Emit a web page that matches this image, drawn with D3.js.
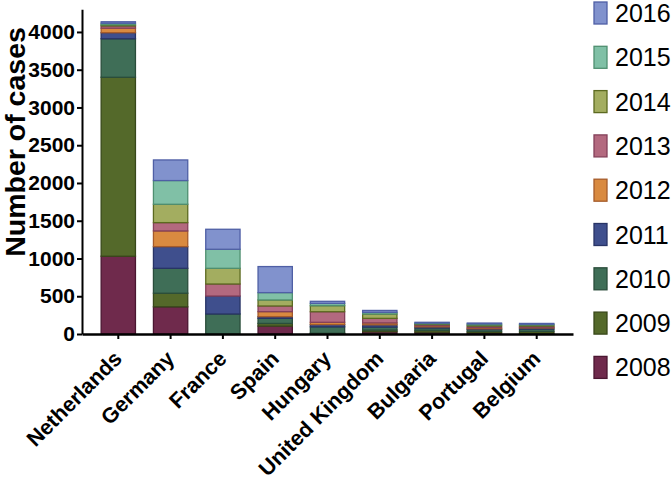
<!DOCTYPE html>
<html>
<head>
<meta charset="utf-8">
<script src="https://cdn.jsdelivr.net/npm/d3@7"></script>
<style>
  body { margin: 0; background: #fff; }
  svg { display: block; font-family: "Liberation Sans", Arial, sans-serif; }
</style>
</head>
<body>
<svg id="chart" width="672" height="481"></svg>
<script>
// data
const countries = ['Netherlands', 'Germany', 'France', 'Spain', 'Hungary',
    'United Kingdom', 'Bulgaria', 'Portugal', 'Belgium'];
const years = ['2008', '2009', '2010', '2011', '2012', '2013', '2014', '2015', '2016'];

// cases per year, one array per country (2008 .. 2016)
const netherlands = [1030, 2370, 510, 80, 60, 30, 15, 20, 20];
const germany     = [360, 180, 330, 287, 208, 110, 243, 314, 273];
const france      = [0, 0, 265, 238, 0, 159, 208, 252, 265];
const spain       = [105, 35, 68, 22, 66, 75, 80, 97, 345];
const hungary     = [5, 5, 85, 30, 30, 140, 80, 30, 28];
const uk          = [30, 22, 40, 30, 25, 60, 58, 22, 25];
const bulgaria    = [25, 25, 30, 15, 15, 15, 10, 10, 10];
const portugal    = [15, 20, 25, 10, 15, 20, 15, 15, 10];
const belgium     = [10, 25, 30, 15, 10, 15, 15, 10, 10];

const yTicks = [0, 500, 1000, 1500, 2000, 2500, 3000, 3500, 4000];

const fills   = ['#6f2a4c', '#54692a', '#3f6e57', '#3f4f8d', '#d98a40', '#b3697f', '#a3ad60', '#80c0a6', '#8192cd'];
const strokes = ['#4a1631', '#38481a', '#2a4d3b', '#283466', '#a55b2a', '#84405a', '#5c6a20', '#4f8f70', '#4f5fa5'];

const rows = [netherlands, germany, france, spain, hungary, uk, bulgaria, portugal, belgium];
const table = countries.map((c, i) => {
    const r = { country: c };
    years.forEach((y, j) => { r[y] = rows[i][j]; });
    return r;
});

const svg = d3.select('#chart');

const x = d3.scaleBand()
    .domain(countries)
    .range([82, 573])
    .paddingInner(0.344)
    .paddingOuter(0.366);

const y = d3.scaleLinear()
    .domain([0, 4300])
    .range([334, 9.3]);

const color = d3.scaleOrdinal().domain(years).range(fills);
const edge = d3.scaleOrdinal().domain(years).range(strokes);

const series = d3.stack().keys(years)(table);

// bars
svg.append('g')
    .selectAll('g')
    .data(series)
    .join('g')
    .attr('fill', d => color(d.key))
    .attr('stroke', d => edge(d.key))
    .attr('stroke-width', 1.3)
    .selectAll('rect')
    .data(d => d.filter(v => v[1] - v[0] > 0))
    .join('rect')
    .attr('x', d => x(d.data.country))
    .attr('width', x.bandwidth())
    .attr('y', d => y(d[1]))
    .attr('height', d => y(d[0]) - y(d[1]));

// y axis
const yAxis = svg.append('g')
    .attr('transform', 'translate(82,0)')
    .call(d3.axisLeft(y).tickValues(yTicks).tickFormat(d3.format('d'))
        .tickSize(5).tickSizeOuter(0).tickPadding(2));
yAxis.select('.domain').attr('stroke-width', 2);
yAxis.selectAll('.tick line').attr('stroke-width', 2);
yAxis.selectAll('.tick text')
    .attr('font-size', 21)
    .attr('font-weight', 'bold')
    .attr('fill', '#000');

// x axis
const xAxis = svg.append('g')
    .attr('transform', `translate(0,${y(0)})`)
    .call(d3.axisBottom(x).tickSize(5).tickSizeOuter(0).tickFormat(''));
xAxis.select('.domain').attr('stroke-width', 2.5);
xAxis.selectAll('.tick line').attr('stroke-width', 2);

svg.append('g')
    .selectAll('text')
    .data(countries)
    .join('text')
    .attr('transform', d => `translate(${x(d) + x.bandwidth() / 2 + 5},360) rotate(-45)`)
    .attr('text-anchor', 'end')
    .attr('font-size', 21.5)
    .attr('font-weight', 'bold')
    .text(d => d);

// y title
svg.append('text')
    .attr('transform', `translate(25,142) rotate(-90)`)
    .attr('text-anchor', 'middle')
    .attr('font-size', 28.5)
    .attr('font-weight', 'bold')
    .text('Number of cases');

// legend, newest year on top
const legend = svg.append('g')
    .selectAll('g')
    .data(years.slice().reverse())
    .join('g')
    .attr('transform', (d, i) => `translate(594,${2 + i * 44.3})`);

legend.append('rect')
    .attr('width', 13)
    .attr('height', 22)
    .attr('fill', d => color(d))
    .attr('stroke', d => edge(d))
    .attr('stroke-width', 1.3);

legend.append('text')
    .attr('x', 21)
    .attr('y', 20)
    .attr('font-size', 25)
    .text(d => d);
</script>
</body>
</html>
